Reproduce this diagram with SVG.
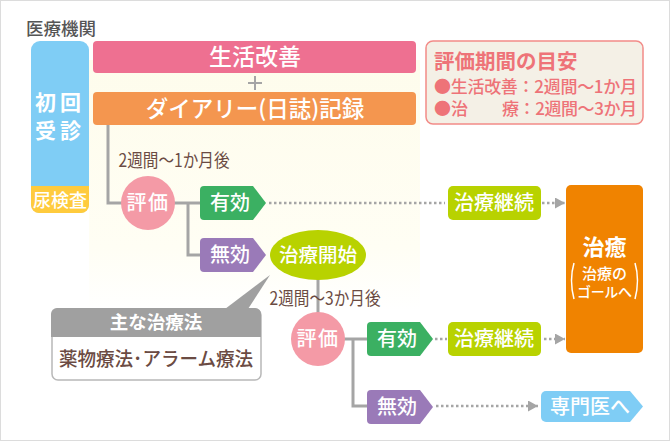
<svg xmlns="http://www.w3.org/2000/svg" width="670" height="441" viewBox="0 0 670 441">
<defs>
<linearGradient id="cream" x1="0" y1="0" x2="0" y2="1"><stop offset="0" stop-color="#fefcec"/><stop offset="0.75" stop-color="#fffef4"/><stop offset="1" stop-color="#ffffff"/></linearGradient>
<marker id="arrow" markerUnits="userSpaceOnUse" markerWidth="11" markerHeight="12" refX="10" refY="5.5" orient="auto"><path d="M0 0L10 5.5L0 11Z" fill="#a5a5a5"/></marker>
</defs>
<style>
text{font-family:"Noto Sans CJK JP","Noto Sans",sans-serif;text-anchor:middle}
.w{fill:#fff;font-weight:500}
.k{font-weight:700}
.b{fill:#6b4b43;font-size:18px;font-weight:400}
.l{fill:none;stroke:#a5a5a5;stroke-width:3}
.p{fill:none;stroke:#a5a5a5;stroke-width:2}
.d{fill:none;stroke:#a5a5a5;stroke-width:2.5;stroke-dasharray:2.5 2.5}
.r{fill:#ee7378;font-size:17px;font-weight:500;text-anchor:start}
.h{font-size:20.5px;font-weight:700}
</style>
<rect x="0.5" y="0.5" width="669" height="440" fill="#fff" stroke="#dcdcdc"/>
<rect x="89" y="60" width="331" height="250" fill="url(#cream)"/>
<text x="61" y="35" font-size="17.5" fill="#555" font-weight="500" id="label-org">医療機関</text>
<g id="connectors">
<path class="l" d="M108 125V203H125"/>
<path class="l" d="M172 203H202M188 203V255H202"/>
<path class="l" d="M318 278V315"/>
<path class="l" d="M343 339H369M353 339V406H369"/>
<path class="p" d="M255 76V90M248 83H262"/>
<path class="d" d="M269 203H445"/>
<path class="d" d="M542 203H565" marker-end="url(#arrow)"/>
<path class="d" d="M435 339H447"/>
<path class="d" d="M544 339H565" marker-end="url(#arrow)"/>
<path class="d" d="M436 406H538" marker-end="url(#arrow)"/>
</g>
<g id="first-visit">
<rect x="31" y="41" width="58" height="172" rx="9" fill="#7fcdf5"/>
<path d="M31 186H89V205a8 8 0 0 1-8 8H39a8 8 0 0 1-8-8Z" fill="#ffcb3d"/>
<text class="w k" x="60" y="110" font-size="21" letter-spacing="4">初回</text>
<text class="w k" x="60" y="138" font-size="21" letter-spacing="4">受診</text>
<text class="w" x="60" y="207" font-size="18">尿検査</text>
</g>
<g id="lifestyle"><rect x="93" y="41" width="323" height="32" rx="4" fill="#ee7091"/><text class="w" x="255" y="65" font-size="23">生活改善</text></g>
<g id="diary"><rect x="93" y="92" width="323" height="33" rx="4" fill="#f4964f"/><text class="w" x="255" y="117" font-size="22.5">ダイアリー(日誌)記録</text></g>
<g id="guide">
<rect x="426" y="41" width="217" height="83" rx="7" fill="#f4f0e6" stroke="#f28b88" stroke-width="1.5"/>
<text class="r h" x="434" y="69">評価期間の目安</text>
<text class="r" x="434" y="93" textLength="203">●生活改善：2週間～1か月</text>
<text class="r" x="434" y="115">●治</text>
<text class="r" x="502" y="115" textLength="135">療：2週間～3か月</text>
</g>
<text class="b" x="174" y="167" textLength="111" lengthAdjust="spacingAndGlyphs" id="label-2w1m">2週間～1か月後</text>
<g id="eval1"><circle cx="148" cy="203" r="27" fill="#f49aa6"/><text class="w" x="148" y="210" font-size="20" letter-spacing="1.5">評価</text></g>
<g id="effective1"><path d="M204 186H253L266 203L253 220H204a4 4 0 0 1-4-4V190a4 4 0 0 1 4-4Z" fill="#3bb062"/><text class="w" x="230" y="210" font-size="20">有効</text></g>
<g id="invalid1"><path d="M204 238H253L266 255L253 272H204a4 4 0 0 1-4-4V242a4 4 0 0 1 4-4Z" fill="#9a7ab8"/><text class="w" x="230" y="262" font-size="20">無効</text></g>
<g id="start"><ellipse cx="318" cy="255" rx="48" ry="25" fill="#b8d200"/><text class="w" x="318" y="262" font-size="19.500">治療開始</text></g>
<text class="b" x="325" y="305" textLength="111" lengthAdjust="spacingAndGlyphs" id="label-2w3m">2週間～3か月後</text>
<g id="methods">
<path d="M225 309L270 275L248 309Z" fill="#a0a0a0"/>
<rect x="52" y="309" width="209" height="71" rx="6" fill="#fff" stroke="#b8b8b8" stroke-width="1.5"/>
<path d="M51 337V314a6 6 0 0 1 6-6H255a6 6 0 0 1 6 6V337Z" fill="#a0a0a0"/>
<text class="w k" x="156" y="329" font-size="18.5">主な治療法</text>
<text x="156" y="366" font-size="19" fill="#6b4b43" font-weight="500" textLength="194" lengthAdjust="spacingAndGlyphs">薬物療法･アラーム療法</text>
</g>
<g id="eval2"><circle cx="318" cy="339" r="27" fill="#f49aa6"/><text class="w" x="318" y="346" font-size="20" letter-spacing="1.5">評価</text></g>
<g id="effective2"><path d="M371 322H420L433 339L420 356H371a4 4 0 0 1-4-4V326a4 4 0 0 1 4-4Z" fill="#3bb062"/><text class="w" x="397" y="346" font-size="20">有効</text></g>
<g id="invalid2"><path d="M371 390H420L433 407L420 424H371a4 4 0 0 1-4-4V394a4 4 0 0 1 4-4Z" fill="#9a7ab8"/><text class="w" x="397" y="414" font-size="20">無効</text></g>
<g id="continue1"><rect x="448" y="186" width="93" height="34" rx="5" fill="#b8d200"/><text class="w" x="494" y="210" font-size="20">治療継続</text></g>
<g id="continue2"><rect x="448" y="322" width="93" height="34" rx="5" fill="#b8d200"/><text class="w" x="494" y="346" font-size="20">治療継続</text></g>
<g id="cure">
<rect x="566" y="185" width="77" height="168" rx="5" fill="#f08300"/>
<text class="w k" x="604.5" y="255" font-size="22">治癒</text>
<text class="w" x="604.5" y="279" font-size="15">治療の</text>
<text class="w" x="604.5" y="297" font-size="14" textLength="55">ゴールへ</text>
<path d="M574 263Q569 280 574 299M635 263Q640 280 635 299" fill="none" stroke="#fff" stroke-width="1.5"/>
</g>
<g id="specialist"><path d="M546 391H630L643 406.500L630 422H546a5 5 0 0 1-5-5V396a5 5 0 0 1 5-5Z" fill="#7fcdf5"/><text class="w" x="590" y="414" font-size="20">専門医へ</text></g>
</svg>
